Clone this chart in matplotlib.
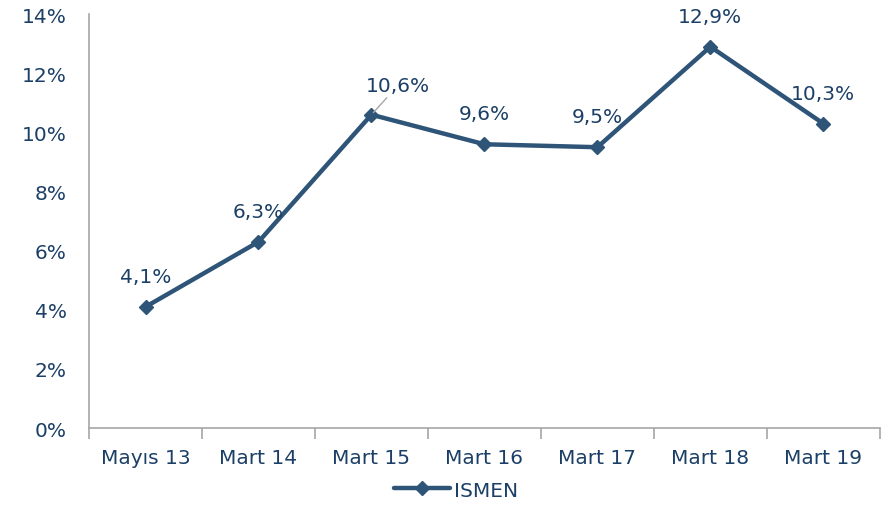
import matplotlib.pyplot as plt
from matplotlib.ticker import FuncFormatter

categories = ['Mayıs 13', 'Mart 14', 'Mart 15', 'Mart 16', 'Mart 17', 'Mart 18', 'Mart 19']
ismen = [4.1, 6.3, 10.6, 9.6, 9.5, 12.9, 10.3]
labels = ['4,1%', '6,3%', '10,6%', '9,6%', '9,5%', '12,9%', '10,3%']

line_color = '#2E5478'
text_color = '#1B3F66'
axis_color = '#A6A6A6'

plt.rcParams['font.family'] = 'sans-serif'
plt.rcParams['font.sans-serif'] = ['DejaVu Sans']
fs = 14.5

fig = plt.figure(figsize=(8.86, 5.06), dpi=100)
ax = fig.add_axes([0.1005, 0.152, 0.8925, 0.818])

x = list(range(len(categories)))
ax.plot(x, ismen, color=line_color, lw=3.2, marker='D', ms=7.5,
        mfc=line_color, mec=line_color, label='ISMEN', solid_capstyle='round')

for i, (v, lab) in enumerate(zip(ismen, labels)):
    if i == 2:
        ax.annotate(lab, (i, v), xytext=(19, 21), textcoords='offset points',
                    ha='center', va='center', fontsize=fs, color=text_color,
                    arrowprops=dict(arrowstyle='-', color='#A6A6A6', lw=1,
                                    shrinkA=0, shrinkB=2))
    else:
        ax.annotate(lab, (i, v), xytext=(0, 22), textcoords='offset points',
                    ha='center', va='center', fontsize=fs, color=text_color)

ax.set_xlim(-0.5, len(categories) - 0.5)
ax.set_ylim(0, 14)
ax.set_yticks(range(0, 15, 2))
ax.yaxis.set_major_formatter(FuncFormatter(lambda v, p: f'{v:.0f}%'))
ax.set_xticks(x)
ax.set_xticklabels(categories)
ax.set_xticks([i - 0.5 for i in range(len(categories) + 1)], minor=True)
ax.tick_params(axis='x', which='major', length=0, pad=14, labelsize=fs, labelcolor=text_color)
ax.tick_params(axis='x', which='minor', length=8, color=axis_color, width=1.2)
ax.tick_params(axis='y', length=0, pad=16, labelsize=fs, labelcolor=text_color)

for s in ['top', 'right']:
    ax.spines[s].set_visible(False)
for s in ['left', 'bottom']:
    ax.spines[s].set_color(axis_color)
    ax.spines[s].set_linewidth(1.2)

leg = fig.legend(loc='lower center', bbox_to_anchor=(0.515, -0.025), frameon=False,
                 fontsize=fs, handlelength=2.8, handletextpad=0.2)
for t in leg.get_texts():
    t.set_color(text_color)

fig.savefig('out.png', dpi=100)
